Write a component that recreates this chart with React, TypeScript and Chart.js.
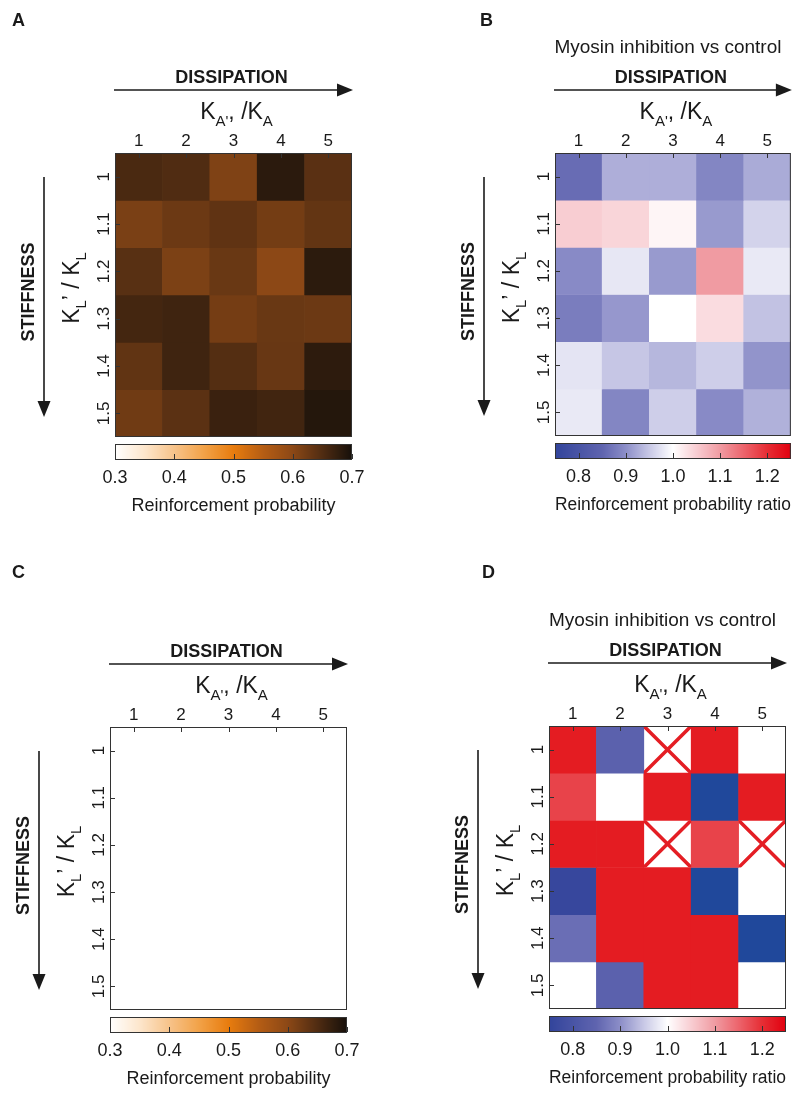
import React, { useEffect, useRef } from 'react';
import { Chart, registerables } from 'chart.js';
Chart.register(...registerables);

const FONT = '"Liberation Sans", Arial, Helvetica, sans-serif';
const INK = '#1a1a1a';

// ---------- data ----------
const colLabels = ['1', '2', '3', '4', '5'];
const rowLabels = ['1', '1.1', '1.2', '1.3', '1.4', '1.5'];
const probTicks = [0.3, 0.4, 0.5, 0.6, 0.7];
const ratioTicks = [0.8, 0.9, 1.0, 1.1, 1.2];

// Panel A: reinforcement probability (control)
const probA: (number | null)[][] = [
  [0.655, 0.65, 0.611, 0.682, 0.642],
  [0.615, 0.627, 0.637, 0.62, 0.634],
  [0.643, 0.613, 0.629, 0.6, 0.681],
  [0.66, 0.665, 0.619, 0.629, 0.627],
  [0.636, 0.665, 0.647, 0.63, 0.68],
  [0.623, 0.641, 0.669, 0.663, 0.688],
];

// Panel B: ratio myosin inhibition vs control
const ratioB: (number | null)[][] = [
  [0.86, 0.928, 0.928, 0.89, 0.925],
  [1.05, 1.042, 1.01, 0.91, 0.96],
  [0.895, 0.978, 0.91, 1.1, 0.98],
  [0.88, 0.908, 1.0, 1.035, 0.945],
  [0.975, 0.948, 0.935, 0.955, 0.905],
  [0.98, 0.89, 0.955, 0.895, 0.93],
];

// Panel C: no data shown
const probC: (number | null)[][] = [
  [null, null, null, null, null],
  [null, null, null, null, null],
  [null, null, null, null, null],
  [null, null, null, null, null],
  [null, null, null, null, null],
  [null, null, null, null, null],
];

// Panel D: ratio (null = undefined, crossed)
const ratioD: (number | null)[][] = [
  [1.3, 0.84, null, 1.3, 1.0],
  [1.18, 1.0, 1.3, 0.7, 1.3],
  [1.3, 1.3, null, 1.18, null],
  [0.76, 1.3, 1.3, 0.7, 1.0],
  [0.862, 1.3, 1.3, 1.3, 0.7],
  [1.0, 0.84, 1.3, 1.3, 1.0],
];

// ---------- colour maps ----------
type Stop = [number, [number, number, number]];
const probStops: Stop[] = [
  [0.3, [255, 255, 255]],
  [0.35, [253, 230, 204]],
  [0.4, [247, 195, 138]],
  [0.45, [242, 162, 72]],
  [0.5, [232, 124, 14]],
  [0.55, [181, 93, 20]],
  [0.6, [140, 72, 22]],
  [0.65, [80, 44, 18]],
  [0.7, [22, 16, 10]],
];
const ratioStops: Stop[] = [
  [0.7, [32, 72, 155]],
  [0.75, [50, 68, 155]],
  [0.85, [95, 100, 175]],
  [0.9, [140, 142, 200]],
  [0.95, [200, 200, 230]],
  [1.0, [255, 255, 255]],
  [1.05, [248, 205, 210]],
  [1.1, [240, 155, 162]],
  [1.15, [236, 100, 108]],
  [1.2, [230, 45, 52]],
  [1.25, [225, 0, 15]],
  [1.3, [228, 28, 34]],
];

function cmap(stops: Stop[], v: number): string {
  const f = (c: number[]) => `rgb(${Math.round(c[0])},${Math.round(c[1])},${Math.round(c[2])})`;
  if (v <= stops[0][0]) return f(stops[0][1]);
  for (let i = 0; i < stops.length - 1; i++) {
    const [a, ca] = stops[i];
    const [b, cb] = stops[i + 1];
    if (v <= b) {
      const t = (v - a) / (b - a);
      return f([0, 1, 2].map((k) => ca[k] + (cb[k] - ca[k]) * t));
    }
  }
  return f(stops[stops.length - 1][1]);
}

// ---------- panel layout ----------
type Panel = {
  letter: string;
  lx: number;
  ly: number;
  x: number;
  y: number;
  w: number;
  h: number;
  heat: { l: number; t: number; r: number; b: number };
  values: (number | null)[][];
  stops: Stop[];
  cbMin: number;
  cbMax: number;
  cbTicks: number[];
  cbTitle: string;
  title?: string;
  cross: boolean;
};

const panels: Panel[] = [
  {
    letter: 'A', lx: 12, ly: 13, x: 0, y: 0, w: 400, h: 546,
    heat: { l: 115, t: 153, r: 352, b: 437 },
    values: probA, stops: probStops, cbMin: 0.3, cbMax: 0.7, cbTicks: probTicks,
    cbTitle: 'Reinforcement probability', cross: false,
  },
  {
    letter: 'B', lx: 80, ly: 13, x: 400, y: 0, w: 403, h: 546,
    heat: { l: 155, t: 153, r: 392, b: 436 },
    values: ratioB, stops: ratioStops, cbMin: 0.75, cbMax: 1.25, cbTicks: ratioTicks,
    cbTitle: 'Reinforcement probability ratio', title: 'Myosin inhibition vs control', cross: false,
  },
  {
    letter: 'C', lx: 12, ly: 19, x: 0, y: 546, w: 400, h: 547,
    heat: { l: 110, t: 181, r: 347, b: 464 },
    values: probC, stops: probStops, cbMin: 0.3, cbMax: 0.7, cbTicks: probTicks,
    cbTitle: 'Reinforcement probability', cross: false,
  },
  {
    letter: 'D', lx: 82, ly: 19, x: 400, y: 546, w: 403, h: 547,
    heat: { l: 149, t: 180, r: 386, b: 463 },
    values: ratioD, stops: ratioStops, cbMin: 0.75, cbMax: 1.25, cbTicks: ratioTicks,
    cbTitle: 'Reinforcement probability ratio', title: 'Myosin inhibition vs control', cross: true,
  },
];

const X_AXIS_H = 30;
const Y_AXIS_W = 30;
const CB_AXIS_H = 80;

type Seg = { t: string; sub?: boolean };
function drawSegs(ctx: CanvasRenderingContext2D, segs: Seg[], cx: number, base: number, mainPx: number, subPx: number, subDy: number) {
  const mainF = `${mainPx}px ${FONT}`;
  const subF = `${subPx}px ${FONT}`;
  const widths = segs.map((s) => {
    ctx.font = s.sub ? subF : mainF;
    return ctx.measureText(s.t).width;
  });
  const total = widths.reduce((a, b) => a + b, 0);
  let x = cx - total / 2;
  ctx.textAlign = 'left';
  ctx.textBaseline = 'alphabetic';
  segs.forEach((s, i) => {
    ctx.font = s.sub ? subF : mainF;
    ctx.fillText(s.t, x, base + (s.sub ? subDy : 0));
    x += widths[i];
  });
}

function makePlugin(p: Panel) {
  return {
    id: 'panelDecor' + p.letter,
    afterDatasetsDraw(chart: any) {
      const ctx: CanvasRenderingContext2D = chart.ctx;
      const { left: L, top: T, right: R, bottom: B } = chart.chartArea;
      const xs = chart.scales.x;
      const ys = chart.scales.y;
      const cb = chart.scales.xcb;
      ctx.save();
      // crossed (undefined) cells
      if (p.cross) {
        const half = (xs.getPixelForValue(1) - xs.getPixelForValue(0)) / 2;
        p.values.forEach((row, r) => {
          row.forEach((v, c) => {
            if (v !== null) return;
            const cx = xs.getPixelForValue(c);
            const x0 = cx - half, x1 = cx + half;
            const y0 = ys.getPixelForValue(r + 0.5), y1 = ys.getPixelForValue(r + 1.5);
            ctx.save();
            ctx.beginPath();
            ctx.rect(x0, y0, x1 - x0, y1 - y0);
            ctx.clip();
            ctx.strokeStyle = '#e41e24';
            ctx.lineWidth = 3.5;
            ctx.beginPath();
            ctx.moveTo(x0, y0); ctx.lineTo(x1, y1);
            ctx.moveTo(x1, y0); ctx.lineTo(x0, y1);
            ctx.stroke();
            ctx.restore();
          });
        });
      }
      // frame
      ctx.strokeStyle = '#333';
      ctx.lineWidth = 1;
      ctx.strokeRect(L + 0.5, T + 0.5, R - L - 1, B - T - 1);
      // inside ticks
      ctx.beginPath();
      colLabels.forEach((_, c) => {
        const px = Math.round(xs.getPixelForValue(c)) + 0.5;
        ctx.moveTo(px, T); ctx.lineTo(px, T + 5);
      });
      rowLabels.forEach((_, r) => {
        const py = Math.round(ys.getPixelForValue(r + 1)) + 0.5;
        ctx.moveTo(L, py); ctx.lineTo(L + 5, py);
      });
      ctx.stroke();
      // colour bar
      const cy0 = B + 7;
      const ch = 16;
      for (let px = Math.floor(cb.left); px < Math.ceil(cb.right); px++) {
        const v = cb.getValueForPixel(px + 0.5);
        ctx.fillStyle = cmap(p.stops, v);
        ctx.fillRect(px, cy0, 1, ch);
      }
      ctx.strokeStyle = '#333';
      ctx.strokeRect(cb.left + 0.5, cy0 + 0.5, cb.right - cb.left - 1, ch - 1);
      ctx.beginPath();
      p.cbTicks.forEach((v) => {
        const px = Math.round(cb.getPixelForValue(v)) + 0.5;
        ctx.moveTo(px, cy0 + ch - 1); ctx.lineTo(px, cy0 + ch - 6);
      });
      ctx.stroke();
      ctx.restore();
    },
    afterDraw(chart: any) {
      const ctx: CanvasRenderingContext2D = chart.ctx;
      const { left: L, top: T, right: R, bottom: B } = chart.chartArea;
      const mx = (L + R) / 2;
      const my = (T + B) / 2;
      ctx.save();
      ctx.fillStyle = INK;
      ctx.strokeStyle = INK;
      // panel letter
      ctx.font = `bold 18px ${FONT}`;
      ctx.textAlign = 'left';
      ctx.textBaseline = 'alphabetic';
      ctx.fillText(p.letter, p.lx, p.ly + 13);
      // title
      if (p.title) {
        ctx.font = `19px ${FONT}`;
        ctx.textAlign = 'center';
        ctx.fillText(p.title, mx - 5, T - 100);
      }
      // DISSIPATION + arrow
      ctx.font = `bold 18px ${FONT}`;
      ctx.textAlign = 'center';
      ctx.fillText('DISSIPATION', mx - 2, T - 70);
      const ay = T - 63;
      ctx.lineWidth = 1.6;
      ctx.beginPath();
      ctx.moveTo(L - 1, ay); ctx.lineTo(R - 6, ay);
      ctx.stroke();
      ctx.beginPath();
      ctx.moveTo(R + 1, ay); ctx.lineTo(R - 15, ay - 6.5); ctx.lineTo(R - 15, ay + 6.5); ctx.closePath();
      ctx.fill();
      // K_A'/K_A
      drawSegs(ctx, [{ t: 'K' }, { t: "A'", sub: true }, { t: ',' }, { t: ' /K' }, { t: 'A', sub: true }], mx + 3, T - 34, 23, 15, 7);
      // STIFFNESS + arrow (vertical)
      ctx.save();
      ctx.translate(L - 86, my - 3);
      ctx.rotate(-Math.PI / 2);
      ctx.font = `bold 18px ${FONT}`;
      ctx.textAlign = 'center';
      ctx.textBaseline = 'middle';
      ctx.fillText('STIFFNESS', 0, 0);
      ctx.restore();
      const vx = L - 71;
      ctx.lineWidth = 1.6;
      ctx.beginPath();
      ctx.moveTo(vx, T + 24); ctx.lineTo(vx, B - 27);
      ctx.stroke();
      ctx.beginPath();
      ctx.moveTo(vx, B - 20); ctx.lineTo(vx - 6.5, B - 36); ctx.lineTo(vx + 6.5, B - 36); ctx.closePath();
      ctx.fill();
      // K_L'/K_L
      ctx.save();
      ctx.translate(L - 36, my - 7);
      ctx.rotate(-Math.PI / 2);
      drawSegs(ctx, [{ t: 'K' }, { t: 'L', sub: true }, { t: '’' }, { t: ' / K' }, { t: 'L', sub: true }], 0, 0, 23, 15, 7);
      ctx.restore();
      ctx.restore();
    },
  };
}

function buildConfig(p: Panel): any {
  const datasets = p.values.map((row, r) => ({
    label: rowLabels[r],
    data: row.map((v) => (v === null ? null : [r + 0.5, r + 1.5])),
    backgroundColor: row.map((v) => (v === null ? 'rgba(0,0,0,0)' : cmap(p.stops, v))),
    borderWidth: 0,
    barPercentage: 1,
    categoryPercentage: 1,
    grouped: false,
    xAxisID: 'x',
    yAxisID: 'y',
  }));
  const tickFont = { family: FONT, size: 17 };
  return {
    type: 'bar',
    data: { labels: colLabels, datasets },
    options: {
      animation: false,
      responsive: false,
      maintainAspectRatio: false,
      devicePixelRatio: 1,
      events: [],
      layout: {
        autoPadding: false,
        padding: {
          left: p.heat.l - Y_AXIS_W,
          top: p.heat.t - X_AXIS_H,
          right: p.w - p.heat.r,
          bottom: p.h - p.heat.b - CB_AXIS_H,
        },
      },
      plugins: { legend: { display: false }, tooltip: { enabled: false }, title: { display: false } },
      scales: {
        x: {
          type: 'category',
          position: 'top',
          offset: true,
          grid: { display: false },
          border: { display: false },
          ticks: { font: tickFont, color: INK, padding: -7, autoSkip: false, minRotation: 0, maxRotation: 0 },
          afterFit: (s: any) => { s.height = X_AXIS_H; },
        },
        y: {
          type: 'linear',
          position: 'left',
          min: 0.5,
          max: 6.5,
          reverse: true,
          grid: { display: false },
          border: { display: false },
          afterBuildTicks: (s: any) => { s.ticks = rowLabels.map((_, i) => ({ value: i + 1 })); },
          ticks: {
            font: tickFont,
            color: INK,
            padding: -9,
            autoSkip: false,
            minRotation: 90,
            maxRotation: 90,
            crossAlign: 'center',
            callback: (v: any) => rowLabels[Math.round(Number(v)) - 1] ?? '',
          },
          afterFit: (s: any) => { s.width = Y_AXIS_W; },
        },
        xcb: {
          type: 'linear',
          axis: 'x',
          position: 'bottom',
          offset: false,
          min: p.cbMin,
          max: p.cbMax,
          grid: { display: false, offset: false },
          border: { display: false },
          afterBuildTicks: (s: any) => { s.ticks = p.cbTicks.map((v) => ({ value: v })); },
          ticks: {
            font: { family: FONT, size: 18 },
            color: INK,
            padding: 22,
            autoSkip: false,
            minRotation: 0,
            maxRotation: 0,
            callback: (v: any) => Number(v).toFixed(1),
          },
          title: {
            display: true,
            text: p.cbTitle,
            color: INK,
            font: { family: FONT, size: 18 },
            padding: { top: 0, bottom: 0 },
          },
          afterFit: (s: any) => { s.height = CB_AXIS_H; },
        },
      },
    },
    plugins: [makePlugin(p)],
  };
}

function PanelChart({ p }: { p: Panel }) {
  const ref = useRef<HTMLCanvasElement>(null);
  useEffect(() => {
    if (!ref.current) return;
    const chart = new Chart(ref.current, buildConfig(p));
    return () => chart.destroy();
  }, [p]);
  return (
    <canvas
      ref={ref}
      width={p.w}
      height={p.h}
      style={{ position: 'absolute', left: p.x, top: p.y, width: p.w, height: p.h }}
    />
  );
}

export default function App() {
  return (
    <div style={{ position: 'absolute', left: 0, top: 0, width: 803, height: 1093, background: '#fff', overflow: 'hidden' }}>
      {panels.map((p) => (
        <PanelChart key={p.letter} p={p} />
      ))}
    </div>
  );
}
